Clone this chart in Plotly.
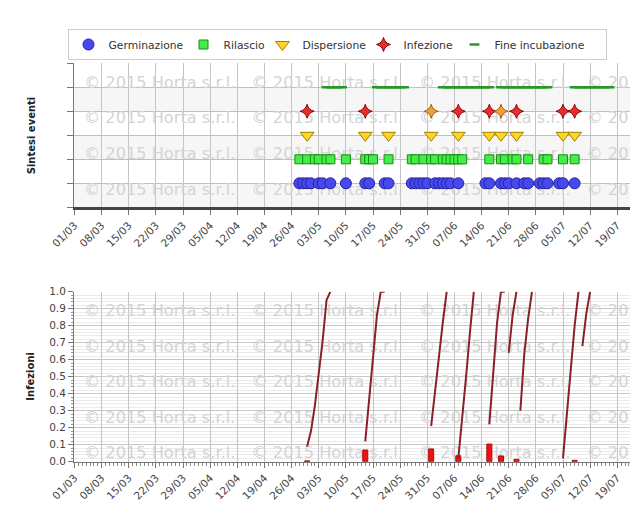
import plotly.graph_objects as go
from datetime import datetime, timedelta

# ---------------- DATA ----------------
categorie = ['Germinazione', 'Rilascio', 'Dispersione', 'Infezione', 'Fine incubazione']

germinazione = ['2015-04-28', '2015-04-29', '2015-04-30', '2015-05-01', '2015-05-03', '2015-05-04',
                '2015-05-06', '2015-05-10', '2015-05-15', '2015-05-16', '2015-05-20', '2015-05-21',
                '2015-05-27', '2015-05-28', '2015-05-29', '2015-05-30', '2015-05-31', '2015-06-02',
                '2015-06-03', '2015-06-04', '2015-06-05', '2015-06-06', '2015-06-08', '2015-06-15',
                '2015-06-16', '2015-06-19', '2015-06-20', '2015-06-21', '2015-06-23', '2015-06-25',
                '2015-06-26', '2015-06-29', '2015-06-30', '2015-07-01', '2015-07-04', '2015-07-05',
                '2015-07-08']

rilascio = ['2015-04-28', '2015-04-30', '2015-05-02', '2015-05-03', '2015-05-05', '2015-05-06',
            '2015-05-10', '2015-05-15', '2015-05-16', '2015-05-17', '2015-05-21', '2015-05-27',
            '2015-05-28', '2015-05-30', '2015-06-01', '2015-06-02', '2015-06-04', '2015-06-05',
            '2015-06-06', '2015-06-07', '2015-06-08', '2015-06-09', '2015-06-16', '2015-06-19',
            '2015-06-20', '2015-06-22', '2015-06-23', '2015-06-26', '2015-06-30', '2015-07-01',
            '2015-07-05', '2015-07-08']

dispersione = ['2015-04-30', '2015-05-15', '2015-05-21', '2015-06-01', '2015-06-08',
               '2015-06-16', '2015-06-19', '2015-06-23', '2015-07-05', '2015-07-08']

infezione = ['2015-04-30', '2015-05-15', '2015-06-01', '2015-06-08', '2015-06-16',
             '2015-06-19', '2015-06-23', '2015-07-05', '2015-07-08']
infezione_livello = ['alto', 'alto', 'medio', 'alto', 'alto', 'medio', 'alto', 'alto', 'alto']

fine_inc_inizio = ['2015-05-05', '2015-05-18', '2015-06-04', '2015-06-19', '2015-07-08']
fine_inc_fine = ['2015-05-09', '2015-05-25', '2015-06-16', '2015-07-01', '2015-07-17']

infezioni_date = ['2015-04-30', '2015-05-15', '2015-06-01', '2015-06-08', '2015-06-16',
                  '2015-06-19', '2015-06-23', '2015-07-08']
infezioni_valori = [0.005, 0.069, 0.075, 0.035, 0.104, 0.034, 0.014, 0.008]

curva_inizio = ['2015-04-30', '2015-05-15', '2015-06-01', '2015-06-08', '2015-06-16',
                '2015-06-21', '2015-06-24', '2015-07-05', '2015-07-10']
curva_valori = [
    [0.09, 0.18, 0.33, 0.51, 0.71, 0.95, 1.0],
    [0.12, 0.36, 0.60, 0.86, 1.0, 1.0],
    [0.21, 0.42, 0.63, 0.82, 1.0],
    [0.02, 0.25, 0.50, 0.76, 1.0],
    [0.22, 0.52, 0.82, 1.0, 1.0],
    [0.64, 0.86, 1.0],
    [0.30, 0.63, 0.84, 1.0],
    [0.02, 0.28, 0.55, 0.80, 1.0],
    [0.68, 0.87, 1.0],
]

filigrana = '© 2015 Horta s.r.l.'

# ---------------- LAYOUT HELPERS ----------------
FONT = 'DejaVu Sans'
W, H = 630, 513
ML = 60            # paper margin
PLOT_L = 74        # left edge of the plotting area (px)
PW = W - ML        # paper width
PX_DAY = 3.877
X0 = datetime(2015, 3, 1) - timedelta(days=0.5 / PX_DAY)
X1 = X0 + timedelta(days=(W - PLOT_L) / PX_DAY)

TOP = (63.3, 207.3)
BOT = (291.7, 461.7)


def d(s):
    return datetime.strptime(s, '%Y-%m-%d')


def px2date(px):
    return X0 + timedelta(days=(px - PLOT_L) / PX_DAY)


def dom(p):
    return [1 - p[1] / H, 1 - p[0] / H]


def px2paper(px):
    return (px - ML) / PW


XDOM = [px2paper(PLOT_L), 1]

cat_y = {c: i + 1 for i, c in enumerate(categorie)}
legend_w = {'Germinazione': 70, 'Rilascio': 34, 'Dispersione': 56, 'Infezione': 46,
            'Fine incubazione': 106}

fig = go.Figure()

# ---- top chart ----
fig.add_trace(go.Scatter(
    x=germinazione, y=[cat_y['Germinazione']] * len(germinazione), mode='markers',
    name='Germinazione', xaxis='x', yaxis='y', legendwidth=legend_w['Germinazione'],
    marker=dict(symbol='circle', size=11, color='#4848f0', line=dict(color='#22229a', width=1))))
fig.add_trace(go.Scatter(
    x=rilascio, y=[cat_y['Rilascio']] * len(rilascio), mode='markers',
    name='Rilascio', xaxis='x', yaxis='y', legendwidth=legend_w['Rilascio'],
    marker=dict(symbol='square', size=9, color='#44ee44', line=dict(color='#1a8a1a', width=1))))
fig.add_trace(go.Scatter(
    x=dispersione, y=[cat_y['Dispersione']] * len(dispersione), mode='markers',
    name='Dispersione', xaxis='x', yaxis='y', legendwidth=legend_w['Dispersione'],
    marker=dict(symbol='triangle-down', size=12, color='#ffd422', line=dict(color='#a08000', width=1))))
col_inf = {'alto': '#e62e2e', 'medio': '#f0a030'}
bord_inf = {'alto': '#8b0000', 'medio': '#a05a10'}
fig.add_trace(go.Scatter(
    x=infezione, y=[cat_y['Infezione']] * len(infezione), mode='markers',
    name='Infezione', xaxis='x', yaxis='y', legendwidth=legend_w['Infezione'],
    marker=dict(symbol='star-diamond', size=10,
                color=[col_inf[l] for l in infezione_livello],
                line=dict(color=[bord_inf[l] for l in infezione_livello], width=1))))
fi_x = []
for s, e in zip(fine_inc_inizio, fine_inc_fine):
    cur = d(s)
    while cur <= d(e):
        fi_x.append(cur)
        cur += timedelta(days=1)
fig.add_trace(go.Scatter(
    x=fi_x, y=[cat_y['Fine incubazione']] * len(fi_x), mode='markers',
    name='Fine incubazione', xaxis='x', yaxis='y', legendwidth=legend_w['Fine incubazione'],
    marker=dict(symbol='line-ew', size=7, color='#2a962a', line=dict(color='#2a962a', width=2.5))))

# ---- bottom chart ----
fig.add_trace(go.Bar(
    x=infezioni_date, y=infezioni_valori, xaxis='x2', yaxis='y2', showlegend=False,
    width=1.3 * 86400000, marker=dict(color='#ee1111', line=dict(color='#aa1111', width=1))))
lx, ly = [], []
for s, vals in zip(curva_inizio, curva_valori):
    for i, v in enumerate(vals):
        lx.append(d(s) + timedelta(days=i))
        ly.append(v)
    lx.append(None)
    ly.append(None)
fig.add_trace(go.Scatter(
    x=lx, y=ly, mode='lines', xaxis='x2', yaxis='y2', showlegend=False, connectgaps=False,
    line=dict(color='#8b1f2a', width=2)))

# ---- shapes: alternate bands + watermark ----
shapes = []
for k in (0, 2, 4):
    shapes.append(dict(type='rect', xref='x domain', yref='y', x0=0, x1=1, y0=k, y1=k + 1,
                       fillcolor='#f6f6f6', line=dict(width=0), layer='below'))

wm_font = dict(family=FONT, size=16.2, color='#d4d4d4')
wm_cols = [81, 248.5, 416, 583.5]
wm_rows_top = [81, 116.7, 152.7, 188.3]
wm_rows_bot = [309, 345, 380.5, 416, 451.5]
for cx in wm_cols:
    for ry in wm_rows_top:
        yv = (TOP[1] - ry) / (TOP[1] - TOP[0]) * 6
        shapes.append(dict(type='rect', xref='x', yref='y', x0=px2date(cx), x1=px2date(cx + 160),
                           y0=yv - 0.3, y1=yv + 0.3, line=dict(width=0), fillcolor='rgba(0,0,0,0)',
                           layer='between',
                           label=dict(text=filigrana, textposition='middle left', padding=0,
                                      font=wm_font)))
    for ry in wm_rows_bot:
        yv = (BOT[1] - ry) / (BOT[1] - BOT[0])
        shapes.append(dict(type='rect', xref='x2', yref='y2', x0=px2date(cx), x1=px2date(cx + 160),
                           y0=yv - 0.03, y1=yv + 0.03, line=dict(width=0), fillcolor='rgba(0,0,0,0)',
                           layer='between',
                           label=dict(text=filigrana, textposition='middle left', padding=0,
                                      font=wm_font)))

axis_font = dict(family=FONT, size=10.5, color='#444')
xcommon = dict(type='date', range=[X0, X1], tickmode='linear', tick0='2015-03-01',
               dtick=7 * 86400000, tickformat='%d/%m', tickangle=-45, ticks='outside',
               ticklen=5, tickcolor='#777', showgrid=True, gridcolor='#c4c4c4', gridwidth=1,
               zeroline=False, tickfont=axis_font, fixedrange=True, automargin=False)

fig.update_layout(
    width=W, height=H,
    margin=dict(l=ML, r=0, t=0, b=0, autoexpand=False),
    paper_bgcolor='white', plot_bgcolor='white',
    font=dict(family=FONT, color='#333'),
    xaxis=dict(**xcommon, anchor='y', domain=XDOM, showline=True, linecolor='#444', linewidth=3),
    yaxis=dict(domain=dom(TOP), anchor='x', range=[0, 6], tickmode='array',
               tickvals=[0, 1, 2, 3, 4, 5, 6], showticklabels=False, ticks='outside', ticklen=6,
               tickcolor='#777', showgrid=True, gridcolor='#c0c0c0', zeroline=False,
               showline=True, linecolor='#777', linewidth=1, fixedrange=True, automargin=False),
    xaxis2=dict(**xcommon, anchor='y2', domain=XDOM, showline=True, linecolor='#777', linewidth=1,
                minor=dict(dtick=86400000, tick0='2015-03-01', ticks='outside', ticklen=3,
                           tickcolor='#888', showgrid=False)),
    yaxis2=dict(domain=dom(BOT), anchor='x2', range=[0, 1], tickmode='linear', tick0=0, dtick=0.1,
                tickformat='.1f', ticks='outside', ticklen=5, tickcolor='#777', showgrid=True,
                gridcolor='#c8c8c8', zeroline=False, showline=True, linecolor='#777', linewidth=1,
                tickfont=axis_font, fixedrange=True, automargin=False,
                minor=dict(dtick=0.02, showgrid=True, gridcolor='#ebebeb', ticks='outside',
                           ticklen=2, tickcolor='#999')),
    legend=dict(orientation='h', x=px2paper(67.5), xanchor='left', y=1 - 29 / H,
                yanchor='top', bordercolor='#cccccc', borderwidth=1, bgcolor='white',
                font=dict(family=FONT, size=10.75, color='#333')),
    shapes=shapes,
    annotations=[
        dict(text='Sintesi eventi', textangle=-90, xref='paper', yref='paper',
             x=px2paper(31), y=1 - (TOP[0] + TOP[1]) / 2 / H, showarrow=False,
             xanchor='center', yanchor='middle',
             font=dict(family=FONT, size=10, color='#222', weight='bold')),
        dict(text='Infezioni', textangle=-90, xref='paper', yref='paper',
             x=px2paper(31), y=1 - (BOT[0] + BOT[1]) / 2 / H, showarrow=False,
             xanchor='center', yanchor='middle',
             font=dict(family=FONT, size=10, color='#222', weight='bold')),
    ],
    showlegend=True,
)

fig.write_html('out.html', include_plotlyjs=True, config={'displayModeBar': False})
